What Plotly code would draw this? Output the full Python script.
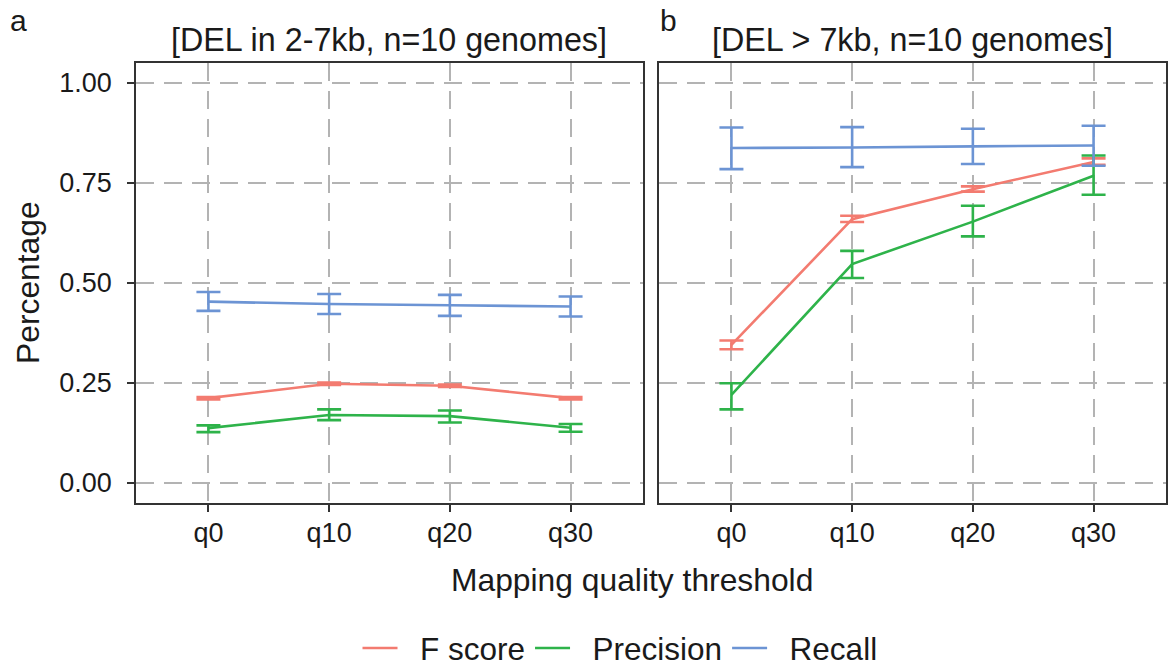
import plotly.graph_objects as go

# ---------------- data ----------------
categories = ["q0", "q10", "q20", "q30"]
series_names = ["F score", "Precision", "Recall"]

# Panel a: DEL in 2-7kb
fscore_a = [0.212, 0.248, 0.243, 0.212]
fscore_a_lo = [0.209, 0.245, 0.240, 0.209]
fscore_a_hi = [0.215, 0.251, 0.246, 0.215]
precision_a = [0.137, 0.170, 0.167, 0.138]
precision_a_lo = [0.127, 0.157, 0.151, 0.128]
precision_a_hi = [0.144, 0.184, 0.181, 0.1475]
recall_a = [0.453, 0.447, 0.444, 0.441]
recall_a_lo = [0.430, 0.422, 0.4175, 0.416]
recall_a_hi = [0.477, 0.472, 0.470, 0.466]

# Panel b: DEL > 7kb
fscore_b = [0.345, 0.659, 0.734, 0.802]
fscore_b_lo = [0.334, 0.652, 0.728, 0.795]
fscore_b_hi = [0.356, 0.6675, 0.741, 0.811]
precision_b = [0.220, 0.547, 0.653, 0.7675]
precision_b_lo = [0.184, 0.512, 0.616, 0.720]
precision_b_hi = [0.249, 0.580, 0.6925, 0.818]
recall_b = [0.837, 0.838, 0.841, 0.843]
recall_b_lo = [0.784, 0.789, 0.797, 0.7925]
recall_b_hi = [0.888, 0.889, 0.885, 0.8925]

y_ticks = [0, 0.25, 0.5, 0.75, 1.0]
panel_titles = ["[DEL in 2-7kb, n=10 genomes]", "[DEL > 7kb, n=10 genomes]"]
panel_tags = ["a", "b"]
x_title = "Mapping quality threshold"
y_title = "Percentage"

# ---------------- style ----------------
colors = {"F score": "#F37B70", "Precision": "#2EB34A", "Recall": "#6C94D4"}
FONT = "Liberation Sans, Arial, Helvetica, sans-serif"
W, H = 1171, 669
PAD = "\u00a0\u00a0"  # visual gap between legend key and label

panel_a = {"F score": (fscore_a, fscore_a_lo, fscore_a_hi),
           "Precision": (precision_a, precision_a_lo, precision_a_hi),
           "Recall": (recall_a, recall_a_lo, recall_a_hi)}
panel_b = {"F score": (fscore_b, fscore_b_lo, fscore_b_hi),
           "Precision": (precision_b, precision_b_lo, precision_b_hi),
           "Recall": (recall_b, recall_b_lo, recall_b_hi)}

fig = go.Figure()
for pi, (panel, xa, ya) in enumerate([(panel_a, "x", "y"), (panel_b, "x2", "y2")]):
    for name in series_names:
        vals, lo, hi = panel[name]
        fig.add_trace(go.Scatter(
            x=categories, y=vals, mode="lines", name=PAD + name,
            xaxis=xa, yaxis=ya,
            line=dict(color=colors[name], width=2.6),
            error_y=dict(type="data", symmetric=False,
                         array=[h - v for h, v in zip(hi, vals)],
                         arrayminus=[v - l for v, l in zip(vals, lo)],
                         color=colors[name], thickness=2.6, width=12),
            showlegend=(pi == 0), legendgroup=name,
        ))

xa_dom = [136 / W, 643 / W]
xb_dom = [659 / W, 1166 / W]
y_dom = [1 - 503 / H, 1 - 62.7 / H]

grid = dict(showgrid=True, gridcolor="#B3B3B3", gridwidth=2, griddash="18px,10px")
frame = dict(showline=True, linecolor="#333333", linewidth=1.6, mirror=True,
             ticks="outside", ticklen=7, tickwidth=1.6, tickcolor="#333333",
             zeroline=False, automargin=False)
tickfont = dict(family=FONT, size=27, color="#1a1a1a")

common_x = dict(type="category", range=[-0.6, 3.6], categoryorder="array",
                categoryarray=categories, tickfont=tickfont, ticklabelstandoff=-2,
                **grid, **frame)
fig.update_layout(
    xaxis=dict(domain=xa_dom, anchor="y", **common_x),
    xaxis2=dict(domain=xb_dom, anchor="y2", **common_x),
    yaxis=dict(domain=y_dom, anchor="x", range=[-0.05, 1.05], tickvals=y_ticks,
               tickformat=".2f", tickfont=tickfont, ticklabelstandoff=10, **grid, **frame),
    yaxis2=dict(domain=y_dom, anchor="x2", range=[-0.05, 1.05], tickvals=y_ticks,
                showticklabels=False, **grid,
                showline=True, linecolor="#333333", linewidth=1.6, mirror=True,
                ticks="", zeroline=False, automargin=False),
)

annotations = []
for dom, title, tag, tagx in [(xa_dom, panel_titles[0], panel_tags[0], 18),
                              (xb_dom, panel_titles[1], panel_tags[1], 668)]:
    annotations.append(dict(text=title, x=(dom[0] + dom[1]) / 2, y=1 - 40 / H,
                            xref="paper", yref="paper", showarrow=False,
                            xanchor="center", yanchor="middle",
                            font=dict(family=FONT, size=32.3, color="#1a1a1a")))
    annotations.append(dict(text=tag, x=tagx / W, y=1 - 20 / H,
                            xref="paper", yref="paper", showarrow=False,
                            xanchor="center", yanchor="middle",
                            font=dict(family=FONT, size=30, color="#1a1a1a")))
annotations.append(dict(text=x_title, x=632 / W, y=1 - 580 / H, xref="paper", yref="paper",
                        showarrow=False, xanchor="center", yanchor="middle",
                        font=dict(family=FONT, size=31.8, color="#1a1a1a")))
annotations.append(dict(text=y_title, x=28 / W, y=1 - 283 / H, xref="paper", yref="paper",
                        showarrow=False, xanchor="center", yanchor="middle", textangle=-90,
                        font=dict(family=FONT, size=31.8, color="#1a1a1a")))

fig.update_layout(
    width=W, height=H, margin=dict(l=0, r=0, t=0, b=0, autoexpand=False),
    paper_bgcolor="white", plot_bgcolor="white",
    annotations=annotations,
    showlegend=True,
    legend=dict(orientation="h", x=620 / W, y=1 - 648 / H, xanchor="center",
                yanchor="middle", font=dict(family=FONT, size=31.5, color="#1a1a1a"),
                bgcolor="rgba(0,0,0,0)", itemwidth=35, tracegroupgap=0),
)

fig.write_html("out.html", config={"displayModeBar": False},
               post_script="document.body.style.margin='0px';document.body.style.padding='0px';")
